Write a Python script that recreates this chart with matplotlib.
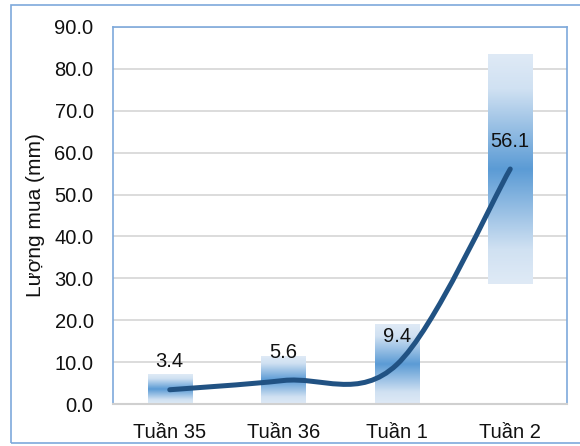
import matplotlib
matplotlib.use('Agg')
import matplotlib.pyplot as plt
from matplotlib import patches
from matplotlib.path import Path
from matplotlib.colors import LinearSegmentedColormap
import numpy as np

plt.rcParams['font.family'] = ['Liberation Sans', 'DejaVu Sans']

weeks = ['Tuần 35', 'Tuần 36', 'Tuần 1', 'Tuần 2']
rain = [3.4, 5.6, 9.4, 56.1]
band_low = [0.0, 0.0, 0.0, 28.6]
band_high = [7.0, 11.3, 18.9, 83.5]
y_ticks = [0, 10, 20, 30, 40, 50, 60, 70, 80, 90]

fig = plt.figure(figsize=(5.8, 4.46), dpi=100)
ax = fig.add_axes([113/580, 42/446, 454/580, 377/446])

# khung ngoai
fig.patches.append(patches.Rectangle((11/580, 3/446), 575/580, 438/446, transform=fig.transFigure,
                                     fill=False, edgecolor='#7EA9DB', linewidth=1.2))

x = np.arange(len(weeks))

for yv in y_ticks[1:]:
    ax.axhline(yv, color='#D9D9D9', linewidth=1.3, zorder=0)

# cot gradient (sang o 2 dau, dam o giua)
cmap = LinearSegmentedColormap.from_list('grad', [(0, '#DFEAF6'), (0.15, '#D0E1F2'), (0.5, '#5B9BD5'),
                                                  (0.85, '#D0E1F2'), (1, '#DFEAF6')])
grad = np.linspace(0, 1, 256).reshape(-1, 1)
bw = 0.39
for i in range(len(weeks)):
    ax.imshow(grad, cmap=cmap, aspect='auto', interpolation='bilinear',
              extent=(x[i] - bw/2, x[i] + bw/2, band_low[i], band_high[i]), zorder=1)

ax.set_xlim(-0.5, len(weeks) - 0.5)
ax.set_ylim(0, 90)

# duong cong muot kieu Excel (Bezier)
pts = np.column_stack([x, rain]).astype(float)
ext = np.vstack([pts[0], pts, pts[-1]])
verts = [tuple(pts[0])]
codes = [Path.MOVETO]
for i in range(len(pts) - 1):
    p0, p1, p2, p3 = ext[i], ext[i+1], ext[i+2], ext[i+3]
    c1 = p1 + (p2 - p0) / 6
    c2 = p2 - (p3 - p1) / 6
    verts += [tuple(c1), tuple(c2), tuple(p2)]
    codes += [Path.CURVE4] * 3
ax.add_patch(patches.PathPatch(Path(verts, codes), fill=False, edgecolor='#215283',
                               linewidth=3.6, capstyle='round', zorder=3))

for i, v in enumerate(rain):
    ax.annotate(f'{v:.1f}', (x[i], v), xytext=(0, 20), textcoords='offset points',
                ha='center', va='center', fontsize=14.5, color='#111111', zorder=4)

ax.set_xticks(x)
ax.set_xticklabels(weeks, fontsize=14.5)
ax.set_yticks(y_ticks)
ax.set_yticklabels([f'{v:.1f}' for v in y_ticks], fontsize=14.5)
ax.tick_params(axis='both', length=0, labelcolor='#111111')
ax.tick_params(axis='x', pad=13.5)
ax.tick_params(axis='y', pad=14)
ax.set_ylabel('Lượng mua (mm)', fontsize=15, color='#111111')
ax.yaxis.set_label_coords(-0.15, 0.5)

for s in ['left', 'top', 'right']:
    ax.spines[s].set_color('#7EA9DB')
    ax.spines[s].set_linewidth(1.2)
ax.spines['bottom'].set_color('#D0D0D0')
ax.spines['bottom'].set_linewidth(1.5)

plt.savefig('out.png', dpi=100)
